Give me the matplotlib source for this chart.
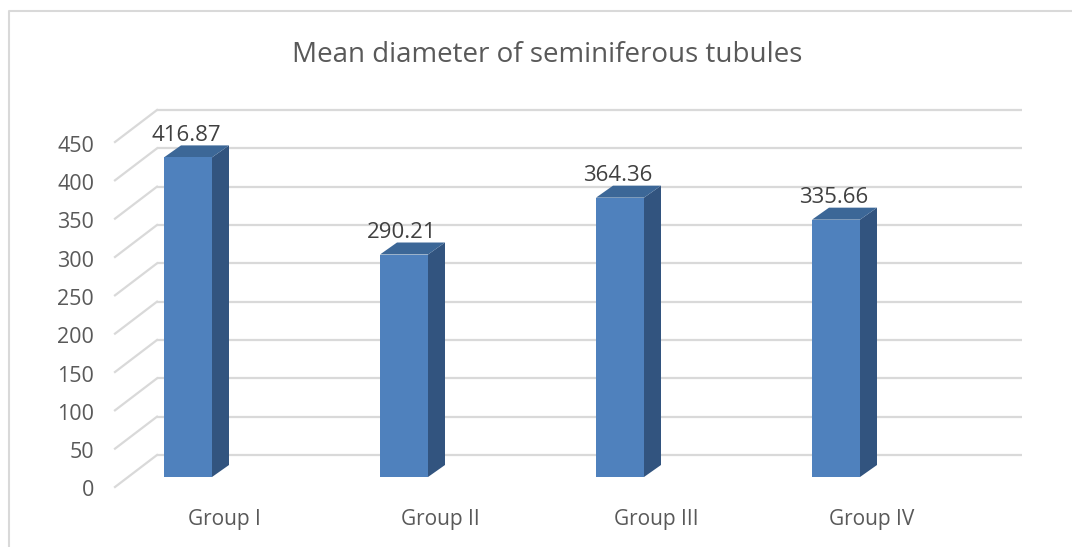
import matplotlib
matplotlib.use("Agg")
import matplotlib.pyplot as plt
from matplotlib.patches import Polygon, Rectangle
from matplotlib.lines import Line2D
from matplotlib.transforms import offset_copy

# ── Dados ────────────────────────────────────────────────────────────────
categorias = ["Group I", "Group II", "Group III", "Group IV"]
valores    = [416.87, 290.21, 364.36, 335.66]
rotulos    = ["416.87", "290.21", "364.36", "335.66"]
ticks_y    = [0, 50, 100, 150, 200, 250, 300, 350, 400, 450]
titulo     = "Mean diameter of seminiferous tubules"

# ── Estilo ───────────────────────────────────────────────────────────────
plt.rcParams["font.family"] = ["Open Sans", "DejaVu Sans"]
COR_FRENTE = "#4f81bd"
COR_LADO   = "#32547f"
COR_TOPO   = "#3c6797"
COR_GRADE  = "#d9d9d9"
COR_TEXTO  = "#595959"

W, H, DPI = 1072, 547, 100
fig = plt.figure(figsize=(W / DPI, H / DPI), dpi=DPI)
ax = fig.add_axes([0, 0, 1, 1])
ax.set_axis_off()

# plano frontal das barras: x = 188 + 216*i px, y = 477 - 0.7667*v px
PX_CAT = 216
PX_VAL = 345 / 450
ax.set_xlim((0 - 188) / PX_CAT, (W - 188) / PX_CAT)
ax.set_ylim((477 - H) / PX_VAL, 477 / PX_VAL)

def desloc(dx, dy):
    return offset_copy(ax.transData, fig=fig, x=dx, y=dy, units="dots")

t_fundo  = desloc(29, 22)    # parede do fundo
t_frente = desloc(-13, -10)  # borda frontal do piso
t_prof   = desloc(17, 12)    # profundidade da barra

x_esq = (128 - 188) / PX_CAT
x_dir = (993 - 188) / PX_CAT

# ── Grade (parede do fundo + parede lateral) ─────────────────────────────
for v in ticks_y:
    ax.plot([x_esq, x_dir], [v, v], color=COR_GRADE, lw=1.6,
            transform=t_fundo, zorder=1, solid_capstyle="butt")
    p0 = t_frente.transform((x_esq, v))
    p1 = t_fundo.transform((x_esq, v))
    ax.add_line(Line2D([p0[0], p1[0]], [p0[1], p1[1]], color=COR_GRADE,
                       lw=1.6, transform=None, zorder=1))
    ax.text(x_esq, v, str(v), transform=desloc(-13 - 21, -14),
            ha="right", va="center", fontsize=15.5, color=COR_TEXTO)

# ── Barras 3D ────────────────────────────────────────────────────────────
larg = 48 / PX_CAT
for i, v in enumerate(valores):
    x0, x1 = i - larg / 2, i + larg / 2
    d = t_prof.transform
    f = ax.transData.transform
    # lateral
    lado = [f((x1, 0)), f((x1, v)), d((x1, v)), d((x1, 0))]
    ax.add_patch(Polygon(lado, closed=True, facecolor=COR_LADO,
                         edgecolor="none", transform=None, zorder=3))
    # topo
    topo = [f((x0, v)), f((x1, v)), d((x1, v)), d((x0, v))]
    ax.add_patch(Polygon(topo, closed=True, facecolor=COR_TOPO,
                         edgecolor="none", transform=None, zorder=3))
    # frente
    ax.add_patch(Rectangle((x0, 0), larg, v, facecolor=COR_FRENTE,
                           edgecolor="none", zorder=4))
    ax.text(i - 2 / PX_CAT, v, rotulos[i], transform=desloc(0, 22),
            ha="center", va="center", fontsize=16, color="#404040", zorder=5)
    ax.text(i + 36 / PX_CAT, 0, categorias[i], transform=desloc(0, -43),
            ha="center", va="center", fontsize=15, color=COR_TEXTO)

# ── Título e borda ───────────────────────────────────────────────────────
fig.text(547 / W, 1 - 55 / H, titulo, ha="center", va="center",
         fontsize=20, color=COR_TEXTO)
fig.add_artist(Line2D([8.5 / W, 8.5 / W, 1], [0, 1 - 11 / H, 1 - 11 / H],
                      color=COR_GRADE, lw=1.5, transform=fig.transFigure))

fig.savefig("out.png", dpi=DPI)
